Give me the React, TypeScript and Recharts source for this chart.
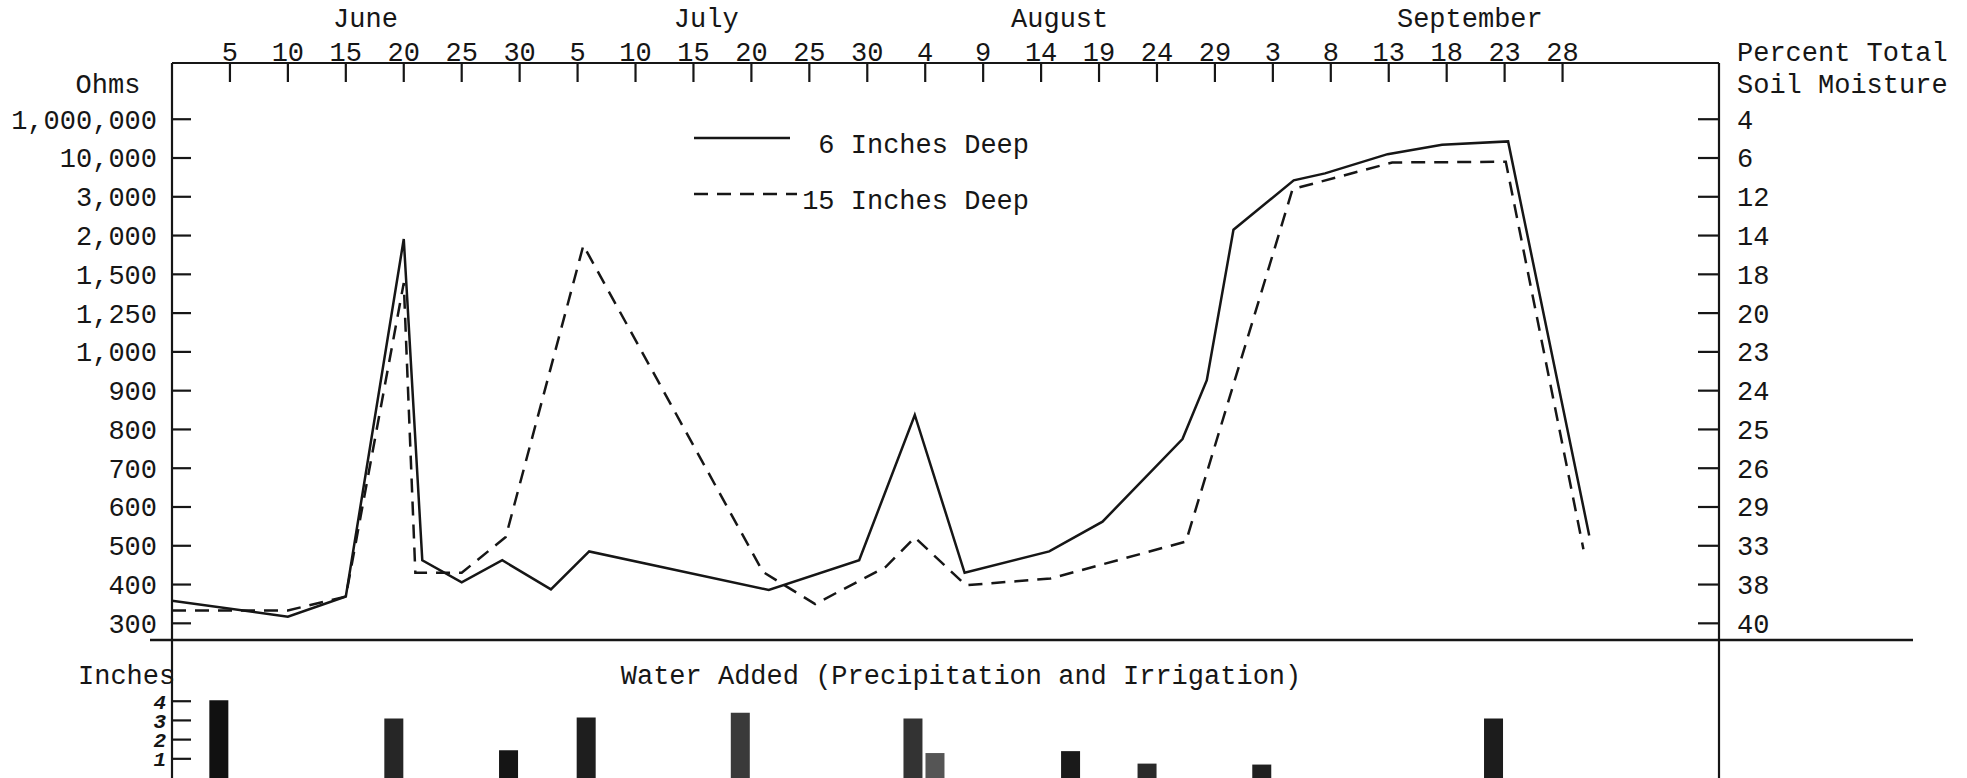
import { LineChart, Line, XAxis, YAxis, Legend, BarChart, Bar, Cell, ReferenceDot } from 'recharts';

const FONT = '"Liberation Mono", "DejaVu Sans Mono", monospace';
const INK = '#161616';

// the ohm axis is not linear: every label sits one step above the previous one
const ohmStops = [300, 400, 500, 600, 700, 800, 900, 1000, 1250, 1500, 2000, 3000, 10000, 1000000];
const ohmLabels = ['300', '400', '500', '600', '700', '800', '900', '1,000', '1,250', '1,500', '2,000', '3,000', '10,000', '1,000,000'];
const moistureLabels = ['40', '38', '33', '29', '26', '25', '24', '23', '20', '18', '14', '12', '6', '4'];

// days counted from May 31 (day 0)
const dayTicks = [5, 10, 15, 20, 25, 30, 35, 40, 45, 50, 55, 60, 65, 70, 75, 80, 85, 90, 95, 100, 105, 110, 115, 120];
const dayTickLabels = ['5', '10', '15', '20', '25', '30', '5', '10', '15', '20', '25', '30', '4', '9', '14', '19', '24', '29', '3', '8', '13', '18', '23', '28'];
const monthNames = ['June', 'July', 'August', 'September'];
const monthCenters = [16.7, 46.1, 76.6, 112.0];

// 6 inches deep (solid)
const shallowDays = [0, 10, 15, 20, 21.6, 25, 28.5, 32.7, 36, 51.5, 59.3, 64.1, 68.4, 75.7, 80.3, 87.2, 89.3, 91.6, 96.8, 99.5, 104.9, 109.6, 115.3, 122.3];
const shallowOhms = [355, 315, 366, 1950, 460, 405, 460, 386, 484, 384, 460, 836, 428, 484, 560, 774, 926, 2125, 5000, 6200, 15800, 48000, 72000, 525];

// 15 inches deep (dashed)
const deepDays = [0, 10, 15, 20, 21, 25, 28.8, 35.5, 51, 55.5, 61.6, 64.1, 68.5, 75.8, 87.5, 96.7, 105.3, 115.1, 121.8];
const deepOhms = [330, 330, 366, 1440, 428, 428, 521, 1860, 430, 346, 443, 520, 398, 414, 510, 3800, 8700, 8900, 490];

// water added, inches
const waterDays = [4, 19.1, 29, 35.7, 49, 63.9, 65.8, 77.5, 84.1, 94, 114];
const waterInches = [4.05, 3.1, 1.45, 3.15, 3.4, 3.1, 1.3, 1.4, 0.75, 0.7, 3.1];
const waterShade = ['#111', '#262626', '#151515', '#1e1e1e', '#3a3a3a', '#333', '#555', '#1a1a1a', '#2a2a2a', '#202020', '#1c1c1c'];

const X_DOMAIN: [number, number] = [0, 133.5];
const Y_DOMAIN: [number, number] = [-0.43, 14.45];
const posTicks = ohmStops.map((_, i) => i);
const DASH = '14 9';

function toPos(v: number) {
  for (let i = 0; i < ohmStops.length - 1; i++) {
    const a = ohmStops[i];
    const b = ohmStops[i + 1];
    if (v <= b || i === ohmStops.length - 2) {
      return i + Math.log(v / a) / Math.log(b / a);
    }
  }
  return 0;
}

const shallowData = shallowDays.map((day, i) => ({ day, pos: toPos(shallowOhms[i]) }));
const deepData = deepDays.map((day, i) => ({ day, pos: toPos(deepOhms[i]) }));
const waterData = waterDays.map((day, i) => ({ day, inches: waterInches[i] }));

const textProps = { fontFamily: FONT, fontSize: 27, fill: INK };

function DayTick(props: any) {
  const { x, y, payload } = props;
  const label = dayTickLabels[dayTicks.indexOf(payload.value)];
  return (
    <g>
      <line x1={x} y1={y} x2={x} y2={y + 19} stroke={INK} strokeWidth={2.2} />
      <text x={x} y={y - 2} textAnchor="middle" {...textProps}>{label}</text>
    </g>
  );
}

function OhmTick(props: any) {
  const { x, y, payload } = props;
  return (
    <g>
      <line x1={x} y1={y} x2={x + 19} y2={y} stroke={INK} strokeWidth={2.2} />
      <text x={x - 15} y={y} dy="0.35em" textAnchor="end" {...textProps}>{ohmLabels[payload.value]}</text>
    </g>
  );
}

function MoistureTick(props: any) {
  const { x, y, payload } = props;
  return (
    <g>
      <line x1={x - 21} y1={y} x2={x} y2={y} stroke={INK} strokeWidth={2.2} />
      <text x={x + 18} y={y} dy="0.35em" textAnchor="start" {...textProps}>{moistureLabels[payload.value]}</text>
    </g>
  );
}

function InchTick(props: any) {
  const { x, y, payload } = props;
  return (
    <g>
      <line x1={x} y1={y} x2={x + 19} y2={y} stroke={INK} strokeWidth={2.2} />
      <text x={x - 6} y={y} dy="0.35em" textAnchor="end" fontFamily={FONT} fontSize={21} fontStyle="italic" fontWeight={700} fill={INK}>
        {payload.value}
      </text>
    </g>
  );
}

// solid entry on the first row, dashed entry below it
function LegendBox(props: any) {
  const items = props.payload ?? [];
  return (
    <svg width={360} height={100}>
      {items.map((item: any) => {
        const dashed = item.payload?.strokeDasharray;
        const ly = dashed ? 76 : 20;
        return (
          <g key={item.value}>
            <line x1={0} y1={ly} x2={dashed ? 103 : 96} y2={ly} stroke={INK} strokeWidth={2.4} strokeDasharray={dashed} />
            <text x={335} y={ly + 15} textAnchor="end" {...textProps}>{item.value}</text>
          </g>
        );
      })}
    </svg>
  );
}

export default function App() {
  return (
    <div style={{ position: 'absolute', left: 0, top: 0, width: 1967, height: 778, background: '#fff', overflow: 'hidden' }}>
      <div style={{ position: 'absolute', left: 0, top: 0 }}>
        <LineChart width={1967} height={640} margin={{ top: 0, right: 0, bottom: 0, left: 0 }}>
          <XAxis
            xAxisId="days" type="number" dataKey="day" orientation="top" domain={X_DOMAIN}
            ticks={dayTicks} interval={0} height={63} tickSize={0} tickMargin={0} tickLine={false}
            axisLine={{ stroke: INK, strokeWidth: 2.2 }} tick={DayTick} allowDataOverflow
          />
          <YAxis
            yAxisId="ohms" type="number" domain={Y_DOMAIN} ticks={posTicks} interval={0} width={172}
            tickSize={0} tickMargin={0} tickLine={false} axisLine={{ stroke: INK, strokeWidth: 2.2 }}
            tick={OhmTick} allowDataOverflow
          />
          <YAxis
            yAxisId="moisture" orientation="right" type="number" domain={Y_DOMAIN} ticks={posTicks} interval={0}
            width={248} tickSize={0} tickMargin={0} tickLine={false} axisLine={{ stroke: INK, strokeWidth: 2.2 }}
            tick={MoistureTick} allowDataOverflow
          />
          <Legend
            layout="vertical" align="center" verticalAlign="middle" content={LegendBox}
            wrapperStyle={{ position: 'absolute', left: 694, top: 118, width: 360, height: 100 }}
          />
          {monthNames.map((m, i) => (
            <ReferenceDot
              key={m} xAxisId="days" yAxisId="ohms" x={monthCenters[i]} y={Y_DOMAIN[1]} r={0}
              fill="none" stroke="none" ifOverflow="visible"
              label={{ value: m, position: 'top', offset: 36, fill: INK, fontSize: 27, fontFamily: FONT }}
            />
          ))}
          <Line
            xAxisId="days" yAxisId="ohms" data={shallowData} dataKey="pos" name="6 Inches Deep"
            type="linear" stroke={INK} strokeWidth={2.5} dot={false} isAnimationActive={false}
          />
          <Line
            xAxisId="days" yAxisId="ohms" data={deepData} dataKey="pos" name="15 Inches Deep"
            type="linear" stroke={INK} strokeWidth={2.5} strokeDasharray={DASH} dot={false} isAnimationActive={false}
          />
        </LineChart>
      </div>

      <div style={{ position: 'absolute', left: 0, top: 640 }}>
        <BarChart width={1967} height={138} data={waterData} margin={{ top: 0, right: 0, bottom: 0, left: 0 }} barSize={19}>
          <XAxis type="number" dataKey="day" domain={X_DOMAIN} hide allowDataOverflow />
          <YAxis
            yAxisId="in" type="number" domain={[0, 7.19]} ticks={[1, 2, 3, 4]} interval={0} width={172}
            tickSize={0} tickMargin={0} tickLine={false} axisLine={{ stroke: INK, strokeWidth: 2.2 }}
            tick={InchTick} allowDataOverflow
          />
          <YAxis
            yAxisId="edge" orientation="right" type="number" domain={[0, 7.19]} width={248}
            tick={false} tickLine={false} axisLine={{ stroke: INK, strokeWidth: 2.2 }}
          />
          <Bar yAxisId="in" dataKey="inches" isAnimationActive={false}>
            {waterData.map((d, i) => (
              <Cell key={d.day} fill={waterShade[i]} />
            ))}
          </Bar>
        </BarChart>
      </div>

      <svg width={1967} height={778} style={{ position: 'absolute', left: 0, top: 0, pointerEvents: 'none' }}>
        <line x1={150} y1={640} x2={1913} y2={640} stroke={INK} strokeWidth={2.4} />
        <text x={108} y={93} textAnchor="middle" {...textProps}>Ohms</text>
        <text x={1737} y={61} {...textProps}>Percent Total</text>
        <text x={1737} y={93} {...textProps}>Soil Moisture</text>
        <text x={78} y={684} {...textProps}>Inches</text>
        <text x={961} y={684} textAnchor="middle" {...textProps}>Water Added (Precipitation and Irrigation)</text>
      </svg>
    </div>
  );
}
